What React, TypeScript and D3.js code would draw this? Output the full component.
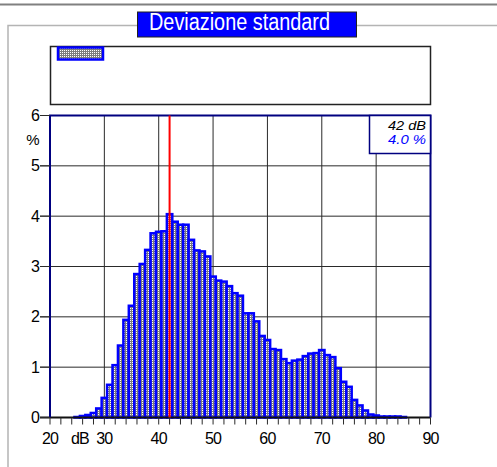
import { useEffect, useRef } from "react";
import * as d3 from "d3";

// histogram: level (dB) -> share of time (%)
const levels = [
  25, 26, 27, 28, 29, 30, 31, 32, 33, 34, 35, 36, 37, 38, 39, 40, 41, 42, 43,
  44, 45, 46, 47, 48, 49, 50, 51, 52, 53, 54, 55, 56, 57, 58, 59, 60, 61, 62,
  63, 64, 65, 66, 67, 68, 69, 70, 71, 72, 73, 74, 75, 76, 77, 78, 79, 80, 81,
  82, 83, 84, 85,
];
const percents = [
  0.01, 0.03, 0.05, 0.09, 0.18, 0.39, 0.65, 1.04, 1.43, 1.94, 2.22, 2.85, 3.05,
  3.33, 3.66, 3.69, 3.7, 4.04, 3.89, 3.83, 3.83, 3.53, 3.32, 3.3, 3.2, 2.8,
  2.72, 2.7, 2.61, 2.47, 2.42, 2.07, 2.07, 1.91, 1.62, 1.54, 1.36, 1.34, 1.16,
  1.08, 1.13, 1.15, 1.22, 1.27, 1.28, 1.34, 1.24, 1.2, 0.98, 0.71, 0.61, 0.35,
  0.24, 0.14, 0.06, 0.04, 0.02, 0.02, 0.02, 0.02, 0.01,
];
const xLabels = [20, 30, 40, 50, 60, 70, 80, 90];
const xMinorTicks = [
  20, 22, 24, 26, 28, 30, 32, 34, 36, 38, 40, 42, 44, 46, 48, 50, 52, 54, 56,
  58, 60, 62, 64, 66, 68, 70, 72, 74, 76, 78, 80, 82, 84, 86, 88, 90,
];
const yLabels = [0, 1, 2, 3, 4, 5, 6];
const cursorLevel = 42;
const cursorText = "42 dB";
const cursorPercentText = "4.0 %";
const title = "Deviazione standard";

const FONT = "'Liberation Sans', Arial, sans-serif";

export default function App() {
  const svgRef = useRef<SVGSVGElement>(null);

  useEffect(() => {
    if (!svgRef.current) return;
    const svg = d3.select(svgRef.current);
    svg.selectAll("*").remove();

    const x = d3.scaleLinear().domain([20, 90]).range([50, 430.5]);
    const y = d3.scaleLinear().domain([0, 6]).range([417.5, 115.5]);
    const [left, right] = x.range();
    const [bottom, top] = y.range();

    // dithered fill used by the bars
    const pat = svg
      .append("defs")
      .append("pattern")
      .attr("id", "dither")
      .attr("width", 2)
      .attr("height", 2)
      .attr("patternUnits", "userSpaceOnUse");
    pat.append("rect").attr("width", 2).attr("height", 2).attr("fill", "#7c7c7c");
    pat.append("rect").attr("width", 1).attr("height", 1).attr("fill", "#fff");

    // header rule and group frame
    svg
      .append("line")
      .attr("x1", 0)
      .attr("x2", 497)
      .attr("y1", 4.5)
      .attr("y2", 4.5)
      .attr("stroke", "#808080")
      .attr("stroke-width", 2);
    svg
      .append("path")
      .attr("d", "M8,467 L8,25.5 L497,25.5")
      .attr("fill", "none")
      .attr("stroke", "#b4b4b4")
      .attr("stroke-width", 1.5);

    // title box
    svg
      .append("rect")
      .attr("x", 137.5)
      .attr("y", 12)
      .attr("width", 219)
      .attr("height", 25)
      .attr("fill", "#0000ff")
      .attr("stroke", "#202020")
      .attr("stroke-width", 1);
    svg
      .append("text")
      .attr("x", 149)
      .attr("y", 30)
      .attr("font-family", FONT)
      .attr("font-size", 23)
      .attr("fill", "#fff")
      .attr("textLength", 181)
      .attr("lengthAdjust", "spacingAndGlyphs")
      .text(title);

    // legend box with swatch
    svg
      .append("rect")
      .attr("x", 50.5)
      .attr("y", 46.5)
      .attr("width", 380)
      .attr("height", 58)
      .attr("fill", "#fff")
      .attr("stroke", "#222")
      .attr("stroke-width", 1.5);
    svg
      .append("rect")
      .attr("x", 58)
      .attr("y", 47.5)
      .attr("width", 45)
      .attr("height", 12)
      .attr("fill", "url(#dither)")
      .attr("stroke", "#0000ff")
      .attr("stroke-width", 2.5);

    // grid
    yLabels.slice(1, -1).forEach((v) => {
      svg
        .append("line")
        .attr("x1", left - 10)
        .attr("x2", right)
        .attr("y1", y(v))
        .attr("y2", y(v))
        .attr("stroke", "#2a2a2a")
        .attr("stroke-width", 1);
    });
    xLabels.slice(1, -1).forEach((v) => {
      svg
        .append("line")
        .attr("x1", x(v))
        .attr("x2", x(v))
        .attr("y1", top)
        .attr("y2", bottom)
        .attr("stroke", "#2a2a2a")
        .attr("stroke-width", 1);
    });

    // bars
    svg
      .append("g")
      .selectAll("rect")
      .data(levels)
      .join("rect")
      .attr("x", (d) => x(d - 0.5))
      .attr("width", (d) => x(d + 0.5) - x(d - 0.5))
      .attr("y", (_, i) => y(percents[i]))
      .attr("height", (_, i) => bottom - y(percents[i]))
      .attr("fill", "url(#dither)")
      .attr("stroke", "#0000ff")
      .attr("stroke-width", 2.5);

    // baseline + plot frame
    svg
      .append("line")
      .attr("x1", left - 10)
      .attr("x2", right)
      .attr("y1", bottom)
      .attr("y2", bottom)
      .attr("stroke", "#111")
      .attr("stroke-width", 2);
    svg
      .append("path")
      .attr("d", `M${left},${bottom} L${left},${top} L${right},${top} L${right},${bottom}`)
      .attr("fill", "none")
      .attr("stroke", "#000080")
      .attr("stroke-width", 2);

    // cursor
    svg
      .append("line")
      .attr("x1", x(cursorLevel))
      .attr("x2", x(cursorLevel))
      .attr("y1", top)
      .attr("y2", bottom)
      .attr("stroke", "#ff0000")
      .attr("stroke-width", 2);

    // cursor readout
    svg
      .append("rect")
      .attr("x", 369.5)
      .attr("y", top)
      .attr("width", right - 369.5)
      .attr("height", 38)
      .attr("fill", "#fff")
      .attr("stroke", "#000080")
      .attr("stroke-width", 1.5);
    svg
      .append("text")
      .attr("x", 388)
      .attr("y", 129.5)
      .attr("font-family", FONT)
      .attr("font-style", "italic")
      .attr("font-size", 12.5)
      .attr("textLength", 38)
      .attr("lengthAdjust", "spacingAndGlyphs")
      .attr("fill", "#000")
      .text(cursorText);
    svg
      .append("text")
      .attr("x", 388)
      .attr("y", 143.5)
      .attr("font-family", FONT)
      .attr("font-style", "italic")
      .attr("font-size", 12.5)
      .attr("textLength", 38)
      .attr("lengthAdjust", "spacingAndGlyphs")
      .attr("fill", "#0000ff")
      .text(cursorPercentText);

    // y axis ticks + labels
    yLabels.forEach((v) => {
      svg
        .append("line")
        .attr("x1", left - 10)
        .attr("x2", left)
        .attr("y1", y(v))
        .attr("y2", y(v))
        .attr("stroke", "#2a2a2a")
        .attr("stroke-width", 1);
      svg
        .append("text")
        .attr("x", 40)
        .attr("y", y(v) + 5.5)
        .attr("text-anchor", "end")
        .attr("font-family", FONT)
        .attr("font-size", 16)
        .attr("fill", "#000")
        .text(v);
    });
    svg
      .append("text")
      .attr("x", 33)
      .attr("y", 145)
      .attr("text-anchor", "middle")
      .attr("font-family", FONT)
      .attr("font-size", 15)
      .attr("fill", "#000")
      .text("%");

    // x axis ticks + labels
    xMinorTicks.forEach((v) => {
      svg
        .append("line")
        .attr("x1", x(v))
        .attr("x2", x(v))
        .attr("y1", bottom)
        .attr("y2", bottom + 7)
        .attr("stroke", "#2a2a2a")
        .attr("stroke-width", 1);
    });
    xLabels.forEach((v) => {
      svg
        .append("text")
        .attr("x", x(v))
        .attr("y", 443.5)
        .attr("text-anchor", "middle")
        .attr("font-family", FONT)
        .attr("font-size", 16)
        .attr("letter-spacing", -0.8)
        .attr("fill", "#000")
        .text(v);
    });
    svg
      .append("text")
      .attr("x", x(25.5))
      .attr("y", 443.5)
      .attr("text-anchor", "middle")
      .attr("font-family", FONT)
      .attr("font-size", 16)
      .attr("letter-spacing", -0.8)
      .attr("fill", "#000")
      .text("dB");
  }, []);

  return (
    <svg
      ref={svgRef}
      width={497}
      height={467}
      style={{ position: "absolute", left: 0, top: 0, background: "#fff" }}
    ></svg>
  );
}
